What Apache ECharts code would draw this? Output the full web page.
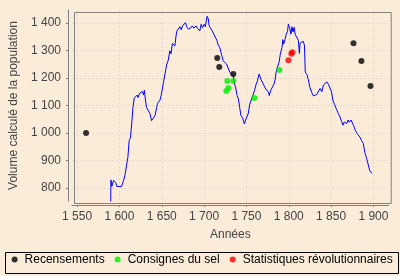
<!DOCTYPE html>
<html>
<head>
<meta charset="utf-8">
<script src="https://cdn.jsdelivr.net/npm/echarts@6/dist/echarts.min.js"></script>
<style>
html,body{margin:0;padding:0;background:#FBECDA;}
#c{width:400px;height:276px;}
</style>
</head>
<body>
<div id="c"></div>
<script>
// Estimated population curve (years, values)
var lineYears = [1589.5,1590,1591,1593,1595.5,1597,1602.5,1603.5,1605,1607,1609,1610,1611.5,1613,1614.5,1616,1617.5,1619,1621,1622,1624,1625.5,1627,1628.5,1629.5,1630.5,1632,1634,1636,1638,1640,1642,1644,1645,1647,1648,1649.5,1651,1652,1654,1656,1657.5,1659.5,1661,1662.5,1664,1665.5,1667,1668,1670,1671.5,1673,1674.5,1676,1678,1679.5,1681.5,1684,1686,1688,1690.5,1692,1694,1695,1696.5,1698,1700,1701.5,1703.5,1705,1706,1707.5,1709.5,1711.5,1713,1715,1716.5,1718.5,1720.5,1722.5,1724.5,1726.5,1728.5,1730.5,1732.5,1734.5,1735.5,1737.3,1739,1740.5,1742,1743.5,1745.5,1747.5,1749.5,1752,1754,1756,1757.5,1759.5,1761.5,1763,1765,1767,1768.5,1770,1772,1774,1776,1777,1778.5,1780.5,1782.5,1784,1785,1786.5,1788.5,1790,1792,1793,1794,1795.5,1797,1798.5,1799.5,1801,1802.5,1803.7,1805,1806.3,1807.7,1809.5,1811.3,1812.5,1813.3,1815,1817,1818.5,1819.5,1821.5,1823,1825,1827,1829,1831,1833,1835,1837,1839,1841,1843,1845,1847,1848.5,1850.5,1852,1854,1856.5,1858.5,1860.5,1862.5,1864,1865.5,1867,1868.5,1870,1871.5,1873.5,1875,1876.5,1878.5,1880,1881.5,1883,1884,1886,1888,1889.8,1891.6,1893.6,1895.6,1897.5,1898.5];
var lineValues = [700,829,805,827,820,805,805,800,827,853,893,911,972,982,1033,1093,1127,1124,1138,1129,1145,1139,1151,1138,1156,1127,1093,1099,1071,1045,1047,1063,1093,1108,1115,1120,1140,1145,1184,1218,1251,1263,1299,1289,1326,1324,1317,1357,1372,1369,1387,1376,1390,1384,1402,1387,1378,1382,1390,1382,1390,1382,1387,1372,1396,1384,1396,1387,1425,1415,1390,1382,1372,1360,1354,1338,1322,1311,1287,1263,1269,1251,1245,1220,1224,1208,1184,1165,1136,1124,1093,1063,1055,1033,1051,1069,1105,1111,1136,1154,1178,1190,1215,1196,1190,1178,1164,1160,1148,1136,1154,1160,1178,1196,1220,1239,1257,1287,1311,1340,1324,1340,1360,1370,1396,1384,1360,1387,1368,1385,1358,1356,1338,1290,1327,1326,1334,1320,1222,1212,1195,1166,1148,1135,1128,1140,1135,1162,1150,1175,1170,1186,1176,1180,1150,1120,1104,1085,1071,1058,1041,1028,1040,1045,1034,1047,1039,1047,1044,1027,1010,1002,994,999,985,972,962,929,911,887,863,855,852];

var censusYears = [1560.6,1715.5,1717.9,1734.5,1876.4,1885.8,1896.5];
var censusValues = [1000,1273,1240,1215,1327,1262,1171];

var selYears = [1727.4,1734.5,1728.6,1726.2,1759.3,1788.9];
var selValues = [1189,1189,1164,1153,1127,1229];

var revoYears = [1799.5,1803,1804.2];
var revoValues = [1265,1289,1294];

var seriesNames = ['Recensements','Consignes du sel','Statistiques révolutionnaires'];
var xTitle = 'Années';
var yTitle = 'Volume calculé de la population';

function pairs(xs, ys){ return xs.map(function(x,i){ return [x, ys[i]]; }); }
function fmt(v){ return String(Math.round(v)).replace(/\B(?=(\d{3})+(?!\d))/g, ' '); }

var FONT = '"Liberation Sans", Arial, sans-serif';
var chart = echarts.init(document.getElementById('c'), null, {renderer:'canvas'});
chart.setOption({
  animation: false,
  backgroundColor: '#FBECDA',
  grid: {left: 72, top: 10, right: 11.3, bottom: 75, show: false},
  xAxis: {
    type: 'value', min: 1544, max: 1918, splitNumber: 7,
    offset: 4,
    name: xTitle, nameLocation: 'middle', nameGap: 24,
    nameTextStyle: {color: '#444', fontFamily: FONT, fontSize: 12},
    axisLine: {show: true, lineStyle: {color: '#808080', width: 1}},
    axisTick: {show: true, length: 2, lineStyle: {color: '#808080'}},
    axisLabel: {color: '#444', fontFamily: FONT, fontSize: 12, margin: 6, formatter: fmt, showMinLabel: false, showMaxLabel: false},
    splitLine: {show: true, showMinLine: false, showMaxLine: false, lineStyle: {color: '#e2d8cc', width: 1, type: [2,2]}}
  },
  yAxis: {
    type: 'value', min: 752, max: 1448, splitNumber: 7,
    offset: 4,
    name: yTitle, nameLocation: 'middle', nameGap: 43,
    nameTextStyle: {color: '#444', fontFamily: FONT, fontSize: 12},
    axisLine: {show: true, lineStyle: {color: '#808080', width: 1}},
    axisTick: {show: true, length: 2, lineStyle: {color: '#808080'}},
    axisLabel: {color: '#444', fontFamily: FONT, fontSize: 12, margin: 7, formatter: fmt, showMinLabel: false, showMaxLabel: false},
    splitLine: {show: true, showMinLine: false, showMaxLine: false, lineStyle: {color: '#e2d8cc', width: 1, type: [2,2]}}
  },
  legend: {
    data: seriesNames.map(function(n){ return {name: n, icon: 'circle'}; }),
    left: 11.6, top: 253.5, padding: 0,
    itemWidth: 10, itemHeight: 6, itemGap: 10,
    textStyle: {color: '#000', fontFamily: FONT, fontSize: 12}
  },
  graphic: [{
    type: 'rect', left: 3, top: 250, shape: {x: 0, y: 0, width: 393, height: 21},
    style: {fill: 'none', stroke: '#000', lineWidth: 1}, silent: true
  }, {
    type: 'rect', left: 72, top: 10, z: 100, shape: {x: 0, y: 0, width: 316.7, height: 191},
    style: {fill: 'none', stroke: '#808080', lineWidth: 1}, silent: true
  }],
  series: [
    {type: 'line', name: 'courbe', data: pairs(lineYears, lineValues), showSymbol: false, symbol: 'none',
     lineStyle: {color: '#0000FF', width: 1}, clip: true, z: 2},
    {type: 'scatter', name: seriesNames[0], data: pairs(censusYears, censusValues), symbolSize: 6, itemStyle: {color: '#000000'}, z: 3},
    {type: 'scatter', name: seriesNames[1], data: pairs(selYears, selValues), symbolSize: 6, itemStyle: {color: '#00EE00'}, z: 3},
    {type: 'scatter', name: seriesNames[2], data: pairs(revoYears, revoValues), symbolSize: 6, itemStyle: {color: '#FF0000'}, z: 3}
  ]
});
</script>
</body>
</html>
